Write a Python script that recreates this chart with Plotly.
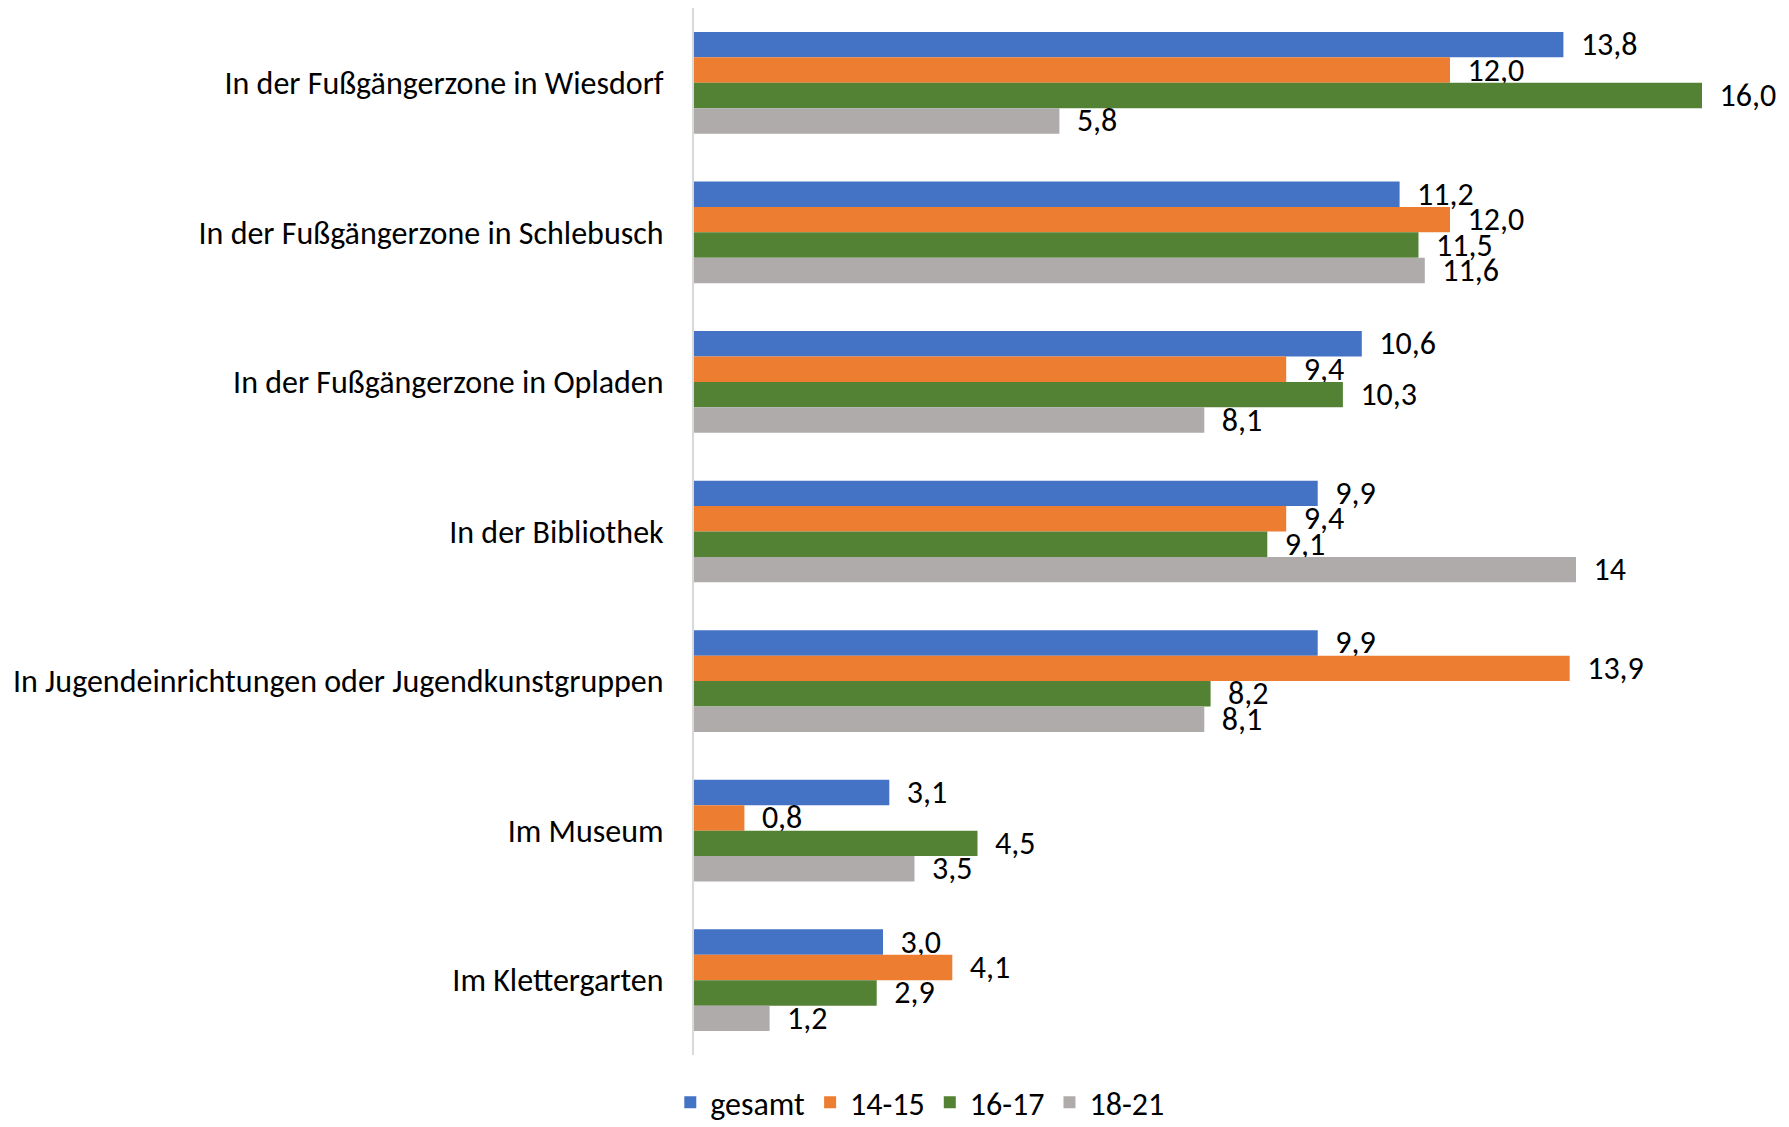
import plotly.graph_objects as go

categories = [
    "In der Fußgängerzone in Wiesdorf",
    "In der Fußgängerzone in Schlebusch",
    "In der Fußgängerzone in Opladen",
    "In der Bibliothek",
    "In Jugendeinrichtungen oder Jugendkunstgruppen",
    "Im Museum",
    "Im Klettergarten",
]
series_names = ["gesamt", "14-15", "16-17", "18-21"]
gesamt = [13.8, 11.2, 10.6, 9.9, 9.9, 3.1, 3.0]
age_14_15 = [12.0, 12.0, 9.4, 9.4, 13.9, 0.8, 4.1]
age_16_17 = [16.0, 11.5, 10.3, 9.1, 8.2, 4.5, 2.9]
age_18_21 = [5.8, 11.6, 8.1, 14, 8.1, 3.5, 1.2]
labels_18_21 = ["5,8", "11,6", "8,1", "14", "8,1", "3,5", "1,2"]
colors = ["#4472C4", "#ED7D31", "#548235", "#AFABAB"]

def fmt(v):
    return f"{v:.1f}".replace(".", ",")

series_values = [gesamt, age_14_15, age_16_17, age_18_21]
series_labels = [
    [fmt(v) for v in gesamt],
    [fmt(v) for v in age_14_15],
    [fmt(v) for v in age_16_17],
    labels_18_21,
]

FONT = "Carlito, 'Liberation Sans Narrow', 'Open Sans', sans-serif"
FS = 32

fig = go.Figure()
for name, vals, labs, col in zip(series_names, series_values, series_labels, colors):
    fig.add_trace(go.Bar(
        y=categories, x=vals, name=name, orientation="h",
        marker=dict(color=col, line=dict(width=0)),
        text=["\u00a0\u00a0" + t for t in labs],
        textposition="outside", constraintext="none", cliponaxis=False,
        textfont=dict(family=FONT, size=FS, color="#000000"),
    ))

fig.update_layout(
    width=1781, height=1119,
    barmode="group", bargap=0.32, bargroupgap=0,
    plot_bgcolor="white", paper_bgcolor="white",
    margin=dict(l=686, r=87, t=0, b=72, autoexpand=False),
    font=dict(family=FONT, size=FS, color="#000000"),
    showlegend=True,
    legend=dict(orientation="h", x=0.224, xanchor="center", y=-0.019, yanchor="top",
                font=dict(family=FONT, size=FS), itemwidth=30, traceorder="normal",
                tracegroupgap=0),
    uniformtext=dict(mode=False),
)
fig.update_xaxes(range=[0, 16], showgrid=False, showticklabels=False, zeroline=False,
                 showline=False, ticks="")
fig.update_yaxes(autorange="reversed", showline=True, linecolor="#D9D9D9", linewidth=2,
                 ticks="", ticklabelstandoff=22, showgrid=False,
                 tickfont=dict(family=FONT, size=FS, color="#000000"))

fig.write_html("out.html")
